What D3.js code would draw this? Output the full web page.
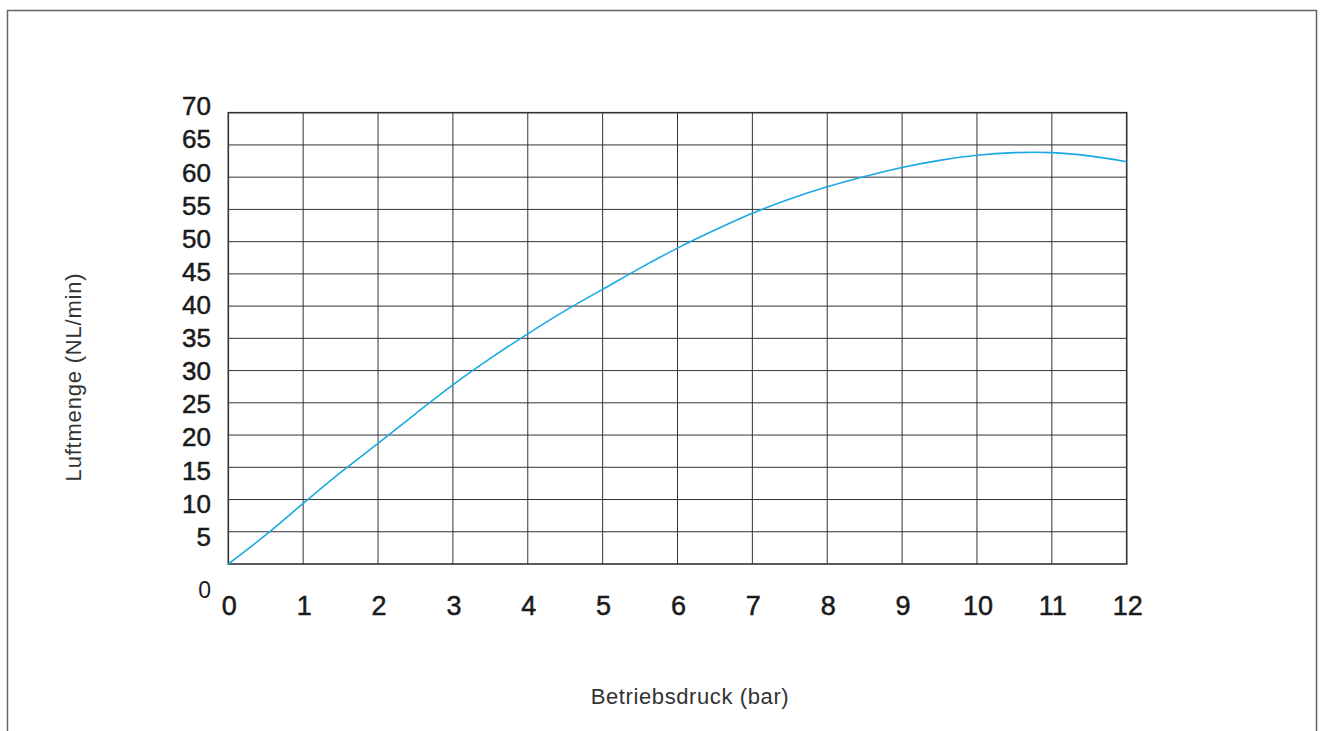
<!DOCTYPE html>
<html>
<head>
<meta charset="utf-8">
<script src="https://cdn.jsdelivr.net/npm/d3@7"></script>
<style>
	body { margin: 0; background: #fff; }
	svg { display: block; }
	text { font-family: "Liberation Sans", Arial, sans-serif; }
</style>
</head>
<body>
<svg width="1328" height="731"></svg>
<script>

	// Betriebsdruck (bar) on x, Luftmenge (NL/min) on y
	var pressure = [0, 0.5, 1, 1.5, 2, 2.5, 3, 3.5, 4, 4.5, 5, 5.5, 6, 6.5, 7, 7.5, 8, 8.5, 9, 9.5, 10, 10.5, 11, 11.5, 12];
	var flow = [0, 4.5, 9.4, 14.2, 18.7, 23.3, 27.8, 31.9, 35.7, 39.3, 42.6, 45.9, 49.0, 51.8, 54.4, 56.6, 58.5, 60.1, 61.5, 62.6, 63.4, 63.8, 63.8, 63.3, 62.4];

	var x_ticks = [0, 1, 2, 3, 4, 5, 6, 7, 8, 9, 10, 11, 12];
	var y_ticks = [5, 10, 15, 20, 25, 30, 35, 40, 45, 50, 55, 60, 65, 70];

	var x_title = "Betriebsdruck (bar)";
	var y_title = "Luftmenge (NL/min)";

	var chart = (function(){

		var svg = d3.select("svg");

		var plot_left = 228.3, plot_right = 1126.7, plot_top = 112.7, plot_bottom = 564;

		var x = d3.scaleLinear().domain([0, 12]).range([plot_left, plot_right]);
		var y = d3.scaleLinear().domain([0, 70]).range([plot_bottom, plot_top]);

		// the tick labels drift a little against the grid in the original
		var y_label = d3.scaleLinear().domain([5, 70]).range([y(5) + 4.7, y(70) - 6.7]);

		// page frame, open at the bottom
		svg.append("path")
			.attr("d", "M7.5,740 V10.5 H1316.5 V740")
			.attr("fill", "none")
			.attr("stroke", "#666")
			.attr("stroke-width", 1.5);

		var grid = svg.append("g").attr("class", "grid");

		grid.selectAll("line.v").data(x_ticks.slice(1, -1)).enter()
			.append("line").attr("class", "v")
			.attr("x1", function(d){ return x(d); })
			.attr("x2", function(d){ return x(d); })
			.attr("y1", plot_top).attr("y2", plot_bottom)
			.attr("stroke", "#333").attr("stroke-width", 1);

		grid.selectAll("line.h").data(y_ticks.slice(0, -1)).enter()
			.append("line").attr("class", "h")
			.attr("x1", plot_left).attr("x2", plot_right)
			.attr("y1", function(d){ return y(d); })
			.attr("y2", function(d){ return y(d); })
			.attr("stroke", "#333").attr("stroke-width", 1);

		grid.append("rect")
			.attr("x", plot_left).attr("y", plot_top)
			.attr("width", plot_right - plot_left).attr("height", plot_bottom - plot_top)
			.attr("fill", "none")
			.attr("stroke", "#333").attr("stroke-width", 1.6);

		var points = pressure.map(function(p, i){ return [p, flow[i]]; });

		var line = d3.line()
			.x(function(d){ return x(d[0]); })
			.y(function(d){ return y(d[1]); })
			.curve(d3.curveCatmullRom);

		svg.append("path")
			.datum(points)
			.attr("d", line)
			.attr("fill", "none")
			.attr("stroke", "#1aa9e2")
			.attr("stroke-width", 1.6);

		// y tick labels
		svg.append("g").selectAll("text").data(y_ticks).enter()
			.append("text")
			.attr("x", 211)
			.attr("y", function(d){ return y_label(d); })
			.attr("dy", "0.36em")
			.attr("text-anchor", "end")
			.attr("font-size", 26)
			.attr("fill", "#1a1a1a")
			.attr("stroke", "#1a1a1a").attr("stroke-width", 0.5)
			.text(function(d){ return d; });

		// lone zero in the corner
		svg.append("text")
			.attr("x", 211).attr("y", y(0) + 34)
			.attr("text-anchor", "end")
			.attr("font-size", 23)
			.attr("fill", "#1a1a1a")
			.text("0");

		// x tick labels
		svg.append("g").selectAll("text").data(x_ticks).enter()
			.append("text")
			.attr("x", function(d){ return x(d) + 1; })
			.attr("y", plot_bottom + 51)
			.attr("text-anchor", "middle")
			.attr("font-size", 27)
			.attr("fill", "#1a1a1a")
			.attr("stroke", "#1a1a1a").attr("stroke-width", 0.5)
			.text(function(d){ return d; });

		svg.append("text")
			.attr("x", 690).attr("y", 704)
			.attr("text-anchor", "middle")
			.attr("font-size", 22)
			.attr("letter-spacing", 0.6)
			.attr("fill", "#333")
			.text(x_title);

		svg.append("text")
			.attr("transform", "translate(81,377) rotate(-90)")
			.attr("text-anchor", "middle")
			.attr("font-size", 22)
			.attr("letter-spacing", 0.8)
			.attr("fill", "#333")
			.text(y_title);

		return null;
	})();

</script>
</body>
</html>
